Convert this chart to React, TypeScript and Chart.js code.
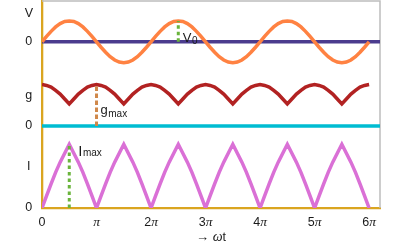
import React, { useEffect, useRef } from 'react';
import { Chart, registerables } from 'chart.js';

Chart.register(...registerables);

// ---- data (x in units of π, sampled every π/12) ----
const SAMPLE_STEP = 1 / 12;
const X_MAX = 6.2;
const X_TICKS = [0, 1, 2, 3, 4, 5, 6];
const X_TICK_LABELS = ['0', 'π', '2π', '3π', '4π', '5π', '6π'];

// V(ωt), in units of V0
const V_VALUES = [
  0, 0.26, 0.5, 0.71, 0.87, 0.97, 1, 0.97, 0.87, 0.71, 0.5, 0.26,
  0, -0.26, -0.5, -0.71, -0.87, -0.97, -1, -0.97, -0.87, -0.71, -0.5, -0.26,
  0, 0.26, 0.5, 0.71, 0.87, 0.97, 1, 0.97, 0.87, 0.71, 0.5, 0.26,
  0, -0.26, -0.5, -0.71, -0.87, -0.97, -1, -0.97, -0.87, -0.71, -0.5, -0.26,
  0, 0.26, 0.5, 0.71, 0.87, 0.97, 1, 0.97, 0.87, 0.71, 0.5, 0.26,
  0, -0.26, -0.5, -0.71, -0.87, -0.97, -1, -0.97, -0.87, -0.71, -0.5, -0.26,
  0,
];

// g(ωt), in units of gmax
const G_VALUES = [
  1, 0.98, 0.94, 0.86, 0.77, 0.65, 0.53, 0.65, 0.77, 0.86, 0.94, 0.98,
  1, 0.98, 0.94, 0.86, 0.77, 0.65, 0.53, 0.65, 0.77, 0.86, 0.94, 0.98,
  1, 0.98, 0.94, 0.86, 0.77, 0.65, 0.53, 0.65, 0.77, 0.86, 0.94, 0.98,
  1, 0.98, 0.94, 0.86, 0.77, 0.65, 0.53, 0.65, 0.77, 0.86, 0.94, 0.98,
  1, 0.98, 0.94, 0.86, 0.77, 0.65, 0.53, 0.65, 0.77, 0.86, 0.94, 0.98,
  1, 0.98, 0.94, 0.86, 0.77, 0.65, 0.53, 0.65, 0.77, 0.86, 0.94, 0.98,
  1,
];

// I(ωt), in units of Imax
const I_VALUES = [
  0, 0.19, 0.38, 0.56, 0.72, 0.86, 1, 0.86, 0.72, 0.56, 0.38, 0.19,
  0, 0.19, 0.38, 0.56, 0.72, 0.86, 1, 0.86, 0.72, 0.56, 0.38, 0.19,
  0, 0.19, 0.38, 0.56, 0.72, 0.86, 1, 0.86, 0.72, 0.56, 0.38, 0.19,
  0, 0.19, 0.38, 0.56, 0.72, 0.86, 1, 0.86, 0.72, 0.56, 0.38, 0.19,
  0, 0.19, 0.38, 0.56, 0.72, 0.86, 1, 0.86, 0.72, 0.56, 0.38, 0.19,
  0, 0.19, 0.38, 0.56, 0.72, 0.86, 1, 0.86, 0.72, 0.56, 0.38, 0.19,
  0,
];

// markers
const V0_AT = 2.5;
const GMAX_AT = 1;
const IMAX_AT = 0.5;
const V0 = 1;
const GMAX = 1;
const IMAX = 1;

// panel stacking on the shared y axis
const Y_MAX = 208;
const V_BASE = 167;
const V_SCALE = 21;
const G_BASE = 82.5;
const G_SCALE = 41.5;
const I_BASE = 0;
const I_SCALE = 64;
const Y_TICK_VALUES = [I_BASE, 42, G_BASE, 113, V_BASE, 195];
const Y_TICK_LABELS = ['0', 'I', '0', 'g', '0', 'V'];

const SANS = '"Liberation Sans", Arial, Helvetica, sans-serif';
const SERIF = '"Liberation Serif", "Times New Roman", serif';

const C_AXIS = '#DAA520';
const C_FRAME = '#BDBDBD';

export default function App() {
  const ref = useRef<HTMLCanvasElement>(null);

  useEffect(() => {
    const canvas = ref.current;
    if (!canvas) return;

    const toPts = (vals: number[], base: number, scale: number) =>
      vals.map((v, i) => ({ x: i * SAMPLE_STEP, y: base + v * scale }));

    const textPlugin = {
      id: 'texts',
      beforeDatasetsDraw(chart: any) {
        const { ctx, chartArea } = chart;
        ctx.save();
        ctx.strokeStyle = C_FRAME;
        ctx.lineWidth = 1.5;
        ctx.beginPath();
        ctx.moveTo(chartArea.left, chartArea.top);
        ctx.lineTo(chartArea.right, chartArea.top);
        ctx.lineTo(chartArea.right, chartArea.bottom);
        ctx.stroke();
        ctx.restore();
      },
      afterDraw(chart: any) {
        const { ctx, chartArea } = chart;
        const xs = chart.scales.x;
        const ys = chart.scales.y;
        ctx.save();
        ctx.fillStyle = '#1a1a1a';
        ctx.textBaseline = 'alphabetic';
        ctx.textAlign = 'left';

        // x tick labels: number upright, π italic
        const numFont = `12.5px ${SANS}`;
        const piFont = `italic 13.5px ${SERIF}`;
        X_TICKS.forEach((t, i) => {
          const lab = X_TICK_LABELS[i];
          const hasPi = lab.endsWith('π');
          const pre = hasPi ? lab.slice(0, -1) : lab;
          ctx.font = numFont;
          const w1 = ctx.measureText(pre).width;
          ctx.font = piFont;
          const w2 = hasPi ? ctx.measureText('π').width : 0;
          const px = xs.getPixelForValue(t);
          const x0 = px - (w1 + w2) / 2;
          const base = chartArea.bottom + 17.5;
          ctx.font = numFont;
          ctx.fillText(pre, x0, base);
          if (hasPi) {
            ctx.font = piFont;
            ctx.fillText('π', x0 + w1, base);
          }
        });

        // axis title "→ ωt"
        {
          const parts: [string, string][] = [
            ['→ ', `13px ${SANS}`],
            ['ω', `italic 14px ${SERIF}`],
            ['t', `12.5px ${SANS}`],
          ];
          let total = 0;
          const widths = parts.map(([s, f]) => {
            ctx.font = f;
            const w = ctx.measureText(s).width;
            total += w;
            return w;
          });
          let x = (chartArea.left + chartArea.right) / 2 - total / 2;
          const base = chartArea.bottom + 33;
          parts.forEach(([s, f], i) => {
            ctx.font = f;
            ctx.fillText(s, x, base);
            x += widths[i];
          });
        }

        // annotation labels
        const drawSub = (main: string, sub: string, x: number, y: number, mainFont: string, dy: number) => {
          ctx.font = mainFont;
          ctx.fillText(main, x, y);
          const w = ctx.measureText(main).width;
          ctx.font = `10px ${SANS}`;
          ctx.fillText(sub, x + w + 0.5, y + dy);
        };
        drawSub('V', '0', xs.getPixelForValue(V0_AT) + 4.5, ys.getPixelForValue(V_BASE), `13px ${SANS}`, 2.5);
        drawSub('g', 'max', xs.getPixelForValue(GMAX_AT) + 4, ys.getPixelForValue(G_BASE) - 11.5, `13px ${SANS}`, 3);
        drawSub('I', 'max', xs.getPixelForValue(IMAX_AT) + 9, ys.getPixelForValue(I_BASE + IMAX * I_SCALE) + 11.5, `15px ${SANS}`, 0.5);

        ctx.restore();
      },
    };

    const dashed = (at: number, y0: number, y1: number, color: string, dash: number[]) => ({
      data: [
        { x: at, y: y0 },
        { x: at, y: y1 },
      ],
      borderColor: color,
      borderWidth: 3,
      borderDash: dash,
      borderCapStyle: 'butt',
      pointRadius: 0,
      fill: false,
      order: 0,
    });

    const chart = new Chart(canvas, {
      type: 'line',
      data: {
        datasets: [
          {
            data: [{ x: 0, y: V_BASE }, { x: X_MAX, y: V_BASE }],
            borderColor: '#4B3C8E',
            borderWidth: 3.5,
            pointRadius: 0,
            order: 5,
          },
          {
            data: [{ x: 0, y: G_BASE }, { x: X_MAX, y: G_BASE }],
            borderColor: '#00BCD2',
            borderWidth: 3.5,
            pointRadius: 0,
            order: 5,
          },
          {
            data: toPts(V_VALUES, V_BASE, V_SCALE),
            borderColor: '#FF8242',
            borderWidth: 3.5,
            pointRadius: 0,
            order: 2,
          },
          {
            data: toPts(G_VALUES, G_BASE, G_SCALE),
            borderColor: '#B22222',
            borderWidth: 3.5,
            pointRadius: 0,
            order: 2,
          },
          {
            data: toPts(I_VALUES, I_BASE, I_SCALE),
            borderColor: '#DA70D6',
            borderWidth: 3.5,
            pointRadius: 0,
            order: 2,
          },
          dashed(V0_AT, V_BASE, V_BASE + V0 * V_SCALE, '#6AB43C', [3.5, 3]),
          dashed(GMAX_AT, G_BASE, G_BASE + GMAX * G_SCALE, '#D0884A', [4.5, 2.5]),
          dashed(IMAX_AT, I_BASE, I_BASE + IMAX * I_SCALE, '#6AB43C', [3.5, 3]),
        ] as any,
      },
      options: {
        animation: false,
        responsive: false,
        devicePixelRatio: 1,
        layout: { padding: { top: 1, right: 20, left: 0, bottom: 0 } },
        plugins: { legend: { display: false }, tooltip: { enabled: false } },
        elements: { line: { tension: 0 } },
        scales: {
          x: {
            type: 'linear',
            min: 0,
            max: X_MAX,
            grid: { display: false, drawTicks: false },
            border: { display: true, color: C_AXIS, width: 2.3 },
            ticks: { display: false },
            afterFit: (s: any) => {
              s.height = 39;
              s.paddingLeft = 0;
              s.paddingRight = 0;
            },
          },
          y: {
            type: 'linear',
            min: 0,
            max: Y_MAX,
            grid: { display: false, drawTicks: false },
            border: { display: true, color: C_AXIS, width: 2.3 },
            afterBuildTicks: (s: any) => {
              s.ticks = Y_TICK_VALUES.map((v) => ({ value: v }));
            },
            afterFit: (s: any) => {
              s.width = 42;
              s.paddingTop = 0;
              s.paddingBottom = 0;
            },
            ticks: {
              autoSkip: false,
              crossAlign: 'center',
              padding: 9,
              color: '#1a1a1a',
              font: { family: SANS, size: 12.5 },
              callback: (_v: any, i: number) => Y_TICK_LABELS[i],
            },
          },
        },
      } as any,
      plugins: [textPlugin],
    });

    return () => chart.destroy();
  }, []);

  return (
    <div style={{ position: 'fixed', left: 0, top: 0, width: 400, height: 247, background: '#fff' }}>
      <canvas ref={ref} width={400} height={247} style={{ display: 'block', width: 400, height: 247 }} />
    </div>
  );
}
